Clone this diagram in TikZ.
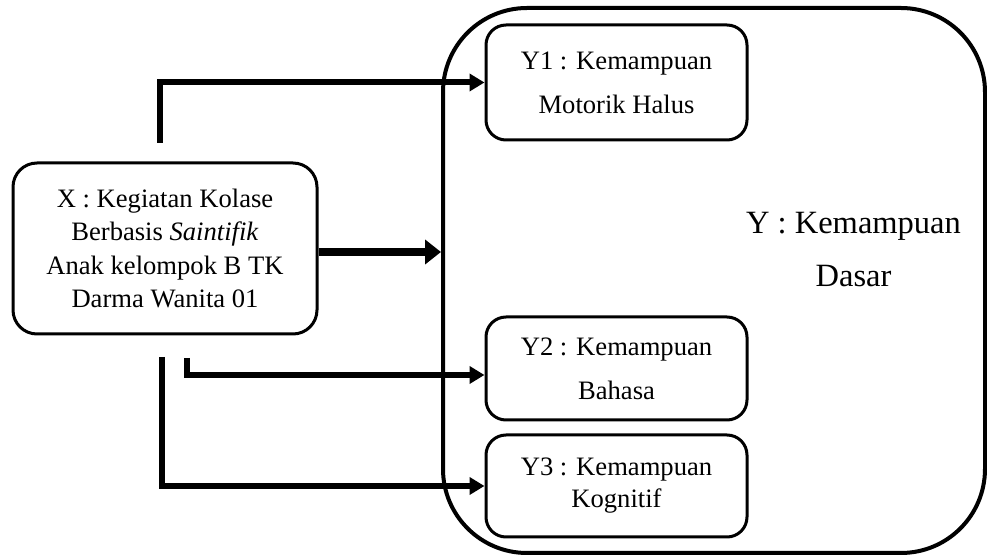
\documentclass[tikz,border=0pt]{standalone}
\usepackage{fontspec}
\setmainfont{Liberation Serif}
\usetikzlibrary{arrows.meta}

\begin{document}
\begin{tikzpicture}[x=0.5pt,y=-0.5pt,
    box/.style={draw,rounded corners=10pt,line width=1.5pt,inner sep=0pt,align=center,
        minimum width=130.5pt,font=\fontsize{13.3}{22}\selectfont},
    arr/.style={line width=3pt,-{Triangle[length=7.5pt,width=8.5pt]}}]
    \useasboundingbox (0,0) rectangle (987,555);
    % outer box Y
    \node[draw,rounded corners=42pt,line width=2pt,minimum width=271pt,minimum height=272.5pt] (Y) at (714,280.5) {};
    \node[align=center,font=\fontsize{16.25}{26.5}\selectfont] (Ylabel) at (853.5,249.5) {Y : Kemampuan\\Dasar};
    % variable X
    \node[box,rounded corners=12pt,minimum width=152pt,minimum height=85.5pt,
        font=\fontsize{13.3}{16.7}\selectfont] (X) at (165,248.5)
        {X : Kegiatan Kolase\\Berbasis \textit{Saintifik}\\Anak kelompok B TK\\Darma Wanita 01};
    % sub variables
    \node[box,minimum height=57.5pt] (Y1) at (616.5,82.5) {Y1 : Kemampuan\\Motorik Halus};
    \node[box,minimum height=51.5pt] (Y2) at (616.5,368.5) {Y2 : Kemampuan\\Bahasa};
    \node[box,minimum height=51pt,font=\fontsize{13.3}{16}\selectfont] (Y3) at (616.5,486) {Y3 : Kemampuan\\Kognitif};
    % loose ends of the connectors
    \coordinate (s1) at (160,143);
    \coordinate (s3) at (187,358);
    \coordinate (s4) at (162,357);
    \draw[arr] (s1) |- (Y1.west);
    \draw[line width=4pt,-{Triangle[length=8pt,width=12pt]}] ([yshift=-1.75pt]X.east) -- ([yshift=-1.75pt]X.east -| Y.west);
    \draw[arr] (s3) |- ([yshift=-3.25pt]Y2.west);
    \draw[arr] (s4) |- (Y3.west);
\end{tikzpicture}
\end{document}
